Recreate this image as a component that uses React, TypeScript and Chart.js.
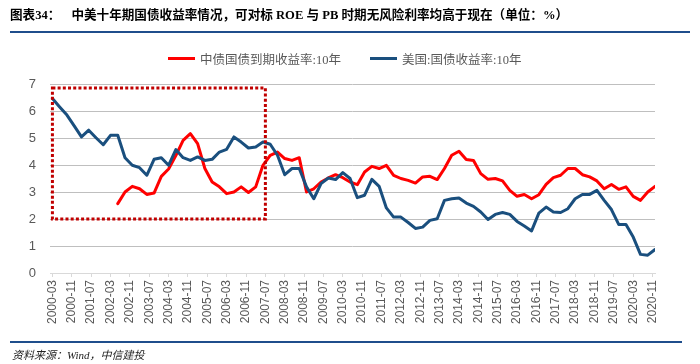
import React, { useEffect, useRef } from 'react';
import { Chart, registerables } from 'chart.js';

Chart.register(...registerables);

// ---------- data ----------
const seriesNames = ['中债国债到期收益率:10年', '美国:国债收益率:10年'];
const seriesColors = ['#FF0000', '#1A4F7E'];

// quarterly observations, first one at 2000-03
const firstPeriod = '2000-03';
const periodStepMonths = 3;

const chinaYield: (number | null)[] = [
  null, null, null, null, null, null, null, null, null, 2.57,
  3.0, 3.21, 3.12, 2.91, 2.96, 3.58, 3.85, 4.35, 4.91, 5.16,
  4.79, 3.87, 3.37, 3.19, 2.94, 3.0, 3.19, 2.98, 3.19, 3.99,
  4.36, 4.48, 4.24, 4.17, 4.27, 3.0, 3.12, 3.37, 3.52, 3.64,
  3.53, 3.37, 3.27, 3.74, 3.95, 3.87, 3.99, 3.62, 3.5, 3.43,
  3.33, 3.56, 3.58, 3.46, 3.87, 4.36, 4.51, 4.2, 4.17, 3.68,
  3.47, 3.5, 3.41, 3.06, 2.84, 2.91, 2.75, 2.9, 3.28, 3.53,
  3.62, 3.87, 3.87, 3.64, 3.56, 3.41, 3.12, 3.28, 3.1, 3.19,
  2.84, 2.69, 3.0, 3.21,
];

const usYield: number[] = [
  6.46, 6.15, 5.85, 5.45, 5.04, 5.29, 5.01, 4.75, 5.1, 5.1,
  4.27, 3.99, 3.9, 3.62, 4.21, 4.27, 3.99, 4.57, 4.27, 4.17,
  4.3, 4.17, 4.21, 4.48, 4.58, 5.04, 4.85, 4.63, 4.67, 4.85,
  4.77, 4.36, 3.64, 3.87, 3.87, 3.19, 2.75, 3.31, 3.52, 3.46,
  3.72, 3.5, 2.79, 2.88, 3.47, 3.21, 2.41, 2.07, 2.07, 1.87,
  1.65, 1.7, 1.95, 2.01, 2.69, 2.75, 2.78, 2.59, 2.47, 2.26,
  1.98, 2.17, 2.24, 2.17, 1.91, 1.74, 1.56, 2.22, 2.44, 2.26,
  2.24, 2.38, 2.75, 2.91, 2.91, 3.06, 2.69, 2.35, 1.8, 1.8,
  1.33, 0.69, 0.66, 0.87,
];

const xTickLabels = [
  '2000-03', '2000-11', '2001-07', '2002-03', '2002-11', '2003-07', '2004-03', '2004-11',
  '2005-07', '2006-03', '2006-11', '2007-07', '2008-03', '2008-11', '2009-07', '2010-03',
  '2010-11', '2011-07', '2012-03', '2012-11', '2013-07', '2014-03', '2014-11', '2015-07',
  '2016-03', '2016-11', '2017-07', '2018-03', '2018-11', '2019-07', '2020-03', '2020-11',
];
const yTickValues = [0, 1, 2, 3, 4, 5, 6, 7];

// highlighted period (dotted box)
const highlightPeriod = ['2000-03', '2007-07'];
const highlightYield = [2, 6.85];

// ---------- helpers ----------
function monthIndex(label: string): number {
  const [y0, m0] = firstPeriod.split('-').map(Number);
  const [y, m] = label.split('-').map(Number);
  return (y - y0) * 12 + (m - m0);
}

function toPoints(values: (number | null)[]) {
  return values.map((v, i) => ({ x: i * periodStepMonths, y: v }));
}

const highlightBoxPlugin = {
  id: 'highlightBox',
  afterDatasetsDraw(chart: any) {
    const { ctx, scales } = chart;
    const x1 = scales.x.getPixelForValue(monthIndex(highlightPeriod[0]));
    const x2 = scales.x.getPixelForValue(monthIndex(highlightPeriod[1]));
    const y1 = scales.y.getPixelForValue(highlightYield[1]);
    const y2 = scales.y.getPixelForValue(highlightYield[0]);
    ctx.save();
    ctx.strokeStyle = '#C00000';
    ctx.lineWidth = 3;
    ctx.setLineDash([3, 2.2]);
    ctx.strokeRect(x1, y1, x2 - x1, y2 - y1);
    ctx.restore();
  },
};

const serif = '"Liberation Serif", "DejaVu Serif", "Noto Sans CJK SC", serif';
const sans = '"Liberation Sans", Arial, "Noto Sans CJK SC", sans-serif';

export default function App() {
  const canvasRef = useRef<HTMLCanvasElement | null>(null);

  useEffect(() => {
    if (!canvasRef.current) return;
    const tickValues = xTickLabels.map(monthIndex);
    const chart = new Chart(canvasRef.current, {
      type: 'line',
      data: {
        datasets: [
          {
            label: seriesNames[0],
            data: toPoints(chinaYield),
            borderColor: seriesColors[0],
            backgroundColor: seriesColors[0],
            borderWidth: 3,
            pointRadius: 0,
            tension: 0,
            borderJoinStyle: 'round',
            borderCapStyle: 'round',
            order: 2,
          },
          {
            label: seriesNames[1],
            data: toPoints(usYield),
            borderColor: seriesColors[1],
            backgroundColor: seriesColors[1],
            borderWidth: 3,
            pointRadius: 0,
            tension: 0,
            borderJoinStyle: 'round',
            borderCapStyle: 'round',
            order: 1,
          },
        ],
      },
      options: {
        responsive: false,
        animation: false,
        devicePixelRatio: 1,
        layout: { padding: { top: 84, right: 45, bottom: 35, left: 0 } },
        plugins: {
          legend: { display: false },
          tooltip: { enabled: false },
        },
        scales: {
          x: {
            type: 'linear',
            min: -1,
            max: 249,
            afterBuildTicks: (scale: any) => {
              scale.ticks = tickValues.map((v) => ({ value: v }));
            },
            afterFit: (scale: any) => {
              scale.height = 56;
            },
            ticks: {
              autoSkip: false,
              minRotation: 90,
              maxRotation: 90,
              padding: 3,
              color: '#595959',
              font: { family: sans, size: 12 },
              callback: (_v: any, i: number) => xTickLabels[i],
            },
            grid: {
              drawOnChartArea: false,
              drawTicks: true,
              tickLength: 4,
              color: '#D9D9D9',
            },
            border: { display: true, color: '#D9D9D9', width: 1 },
          },
          y: {
            min: yTickValues[0],
            max: yTickValues[yTickValues.length - 1],
            afterBuildTicks: (scale: any) => {
              scale.ticks = yTickValues.map((v) => ({ value: v }));
            },
            afterFit: (scale: any) => {
              scale.width = 50;
            },
            ticks: {
              padding: 14,
              color: '#595959',
              font: { family: sans, size: 13 },
            },
            grid: {
              drawTicks: false,
              color: (c: any) => (c.tick && c.tick.value === 0 ? 'rgba(0,0,0,0)' : '#BFBFBF'),
              lineWidth: 1,
            },
            border: { display: false },
          },
        },
      },
      plugins: [highlightBoxPlugin],
    });
    return () => chart.destroy();
  }, []);

  return (
    <div style={{ position: 'fixed', left: 0, top: 0, width: 700, height: 364, background: '#fff', overflow: 'hidden' }}>
      <canvas ref={canvasRef} width={700} height={364} style={{ position: 'absolute', left: 0, top: 0, width: 700, height: 364 }} />
      <div style={{ position: 'absolute', left: 10, top: 6, fontFamily: serif, fontWeight: 'bold', fontSize: 12.6, lineHeight: '18px', color: '#000', whiteSpace: 'nowrap' }}>
        图表34：<span style={{ marginLeft: 11 }}>中美十年期国债收益率情况，可对标 ROE 与 PB 时期无风险利率均高于现在（单位：%）</span>
      </div>
      <div style={{ position: 'absolute', left: 10, top: 31, width: 680, height: 2, background: '#1F4E8C' }} />
      {seriesNames.map((name, i) => (
        <div key={name} style={{ position: 'absolute', left: i === 0 ? 168 : 370, top: 50, height: 16, display: 'flex', alignItems: 'center', whiteSpace: 'nowrap' }}>
          <span style={{ display: 'inline-block', width: 27, height: 3, background: seriesColors[i], marginRight: 5 }} />
          <span style={{ fontFamily: serif, fontSize: 12.5, color: '#595959' }}>{name}</span>
        </div>
      ))}
      <div style={{ position: 'absolute', left: 10, top: 341, width: 672, height: 2, background: '#1F4E8C' }} />
      <div style={{ position: 'absolute', left: 12, top: 346, fontFamily: serif, fontStyle: 'italic', fontSize: 11, color: '#222', whiteSpace: 'nowrap' }}>
        资料来源：Wind，中信建投
      </div>
    </div>
  );
}
